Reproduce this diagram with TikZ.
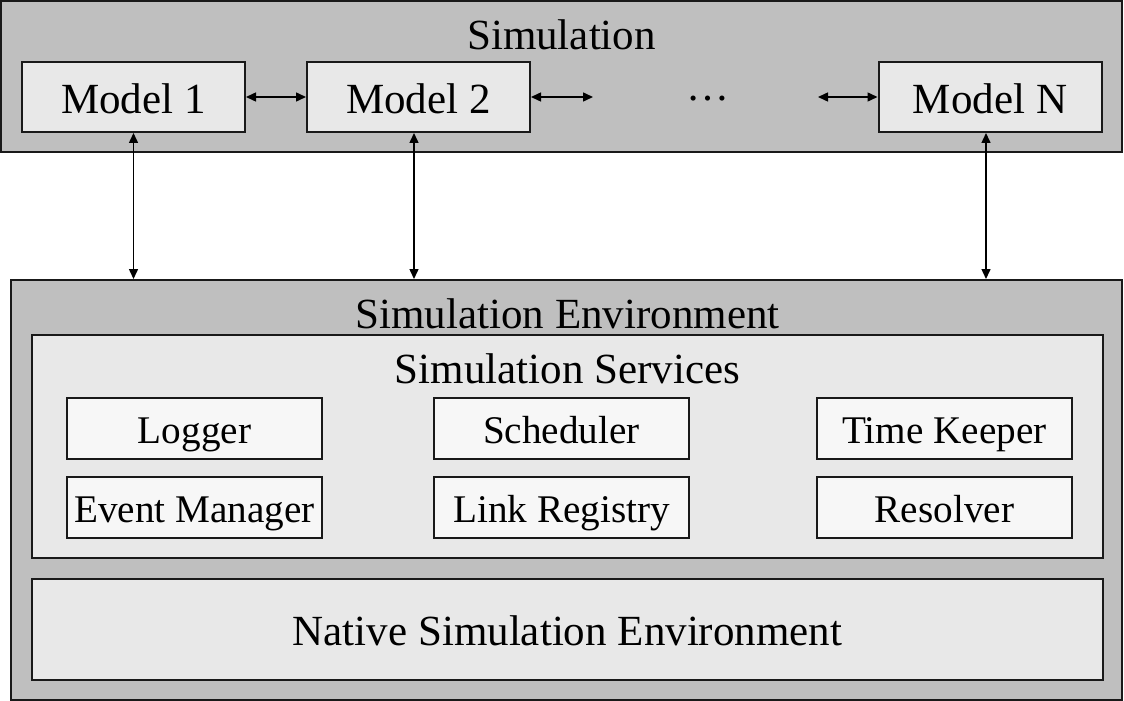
\documentclass[tikz,border=0pt]{standalone}
\usepackage{fontspec}
\setmainfont{Liberation Serif}
\usetikzlibrary{arrows.meta}

\begin{document}
\begin{tikzpicture}[x=0.5pt,y=-0.5pt,
  box/.style={rectangle,draw=black!90,line width=1pt,inner sep=0pt,text height=16.3pt,text depth=0pt},
  layer/.style={box,fill=black!25},
  group/.style={box,fill=black!9},
  model/.style={box,fill=black!9,minimum width=111.5pt,minimum height=35pt,font=\fontsize{21.5}{25}\selectfont},
  service/.style={box,fill=black!3,minimum width=127.5pt,minimum height=30.5pt,text height=15pt,font=\fontsize{19.6}{23}\selectfont},
  title/.style={inner sep=0pt,text height=16.3pt,text depth=0pt,font=\fontsize{21.5}{25}\selectfont},
  link/.style={{Triangle[length=5pt,width=4.5pt]}-{Triangle[length=5pt,width=4.5pt]},line width=0.75pt,black}]
\useasboundingbox (0,0) rectangle (1124,701);
% simulation with its models
\node[layer,minimum width=560.5pt,minimum height=75.5pt] (sim) at (561.5,76.5) {};
\node[title] (simtitle) at (561.5,33.7) {Simulation};
\node[model] (m1) at (133.5,97) {Model 1};
\node[model] (m2) at (418.5,97) {Model 2};
\node[model] (mN) at (990,97) {Model N};
\node[title,anchor=base] (dots) at (708,100.5) {…};
\coordinate (gapL) at (593,97);
\coordinate (gapR) at (818,97);
\draw[link] (m1) -- (m2);
\draw[link] (m2) -- (gapL);
\draw[link] (gapR) -- (mN);
% simulation environment
\node[layer,minimum width=555.5pt,minimum height=210pt] (env) at (566.5,490) {};
\node[title] (envtitle) at (567.5,312) {Simulation Environment};
\node[group,minimum width=535.5pt,minimum height=111.5pt] (svc) at (567.5,446.5) {};
\node[title] (svctitle) at (567.5,367) {Simulation Services};
\node[service] (logger) at (194.5,428.5) {Logger};
\node[service] (sched) at (561.5,428.5) {Scheduler};
\node[service] (keeper) at (944.5,428.5) {Time Keeper};
\node[service] (evmgr) at (194.5,507.5) {Event Manager};
\node[service] (linkreg) at (561.5,507.5) {Link Registry};
\node[service] (resolver) at (944.5,507.5) {Resolver};
\node[group,minimum width=535.5pt,minimum height=50.5pt,font=\fontsize{21.5}{25}\selectfont] (native) at (567.5,629.5) {Native Simulation Environment};
% models to environment
\draw[link] (m1.south) -- (m1.south |- env.north);
\draw[link] ([xshift=-2.25pt]m2.south) -- ([xshift=-2.25pt]m2.south |- env.north);
\draw[link] ([xshift=-2pt]mN.south) -- ([xshift=-2pt]mN.south |- env.north);
\end{tikzpicture}
\end{document}
